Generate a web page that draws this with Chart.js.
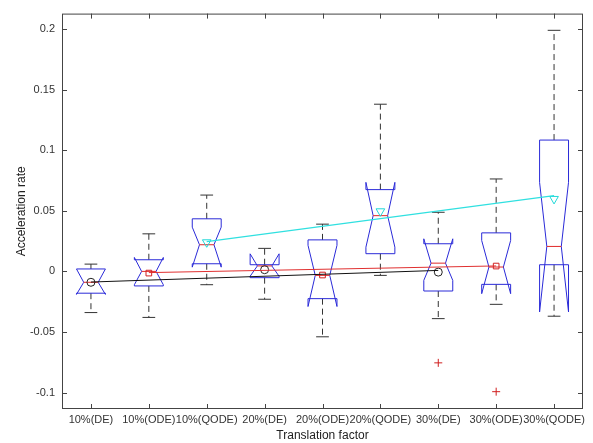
<!DOCTYPE html>
<html>
<head>
<meta charset="utf-8">
<script src="https://cdn.jsdelivr.net/npm/chart.js@4/dist/chart.umd.min.js"></script>
<style>
  html, body { margin: 0; padding: 0; background: #fff; }
  #wrap { width: 593px; height: 443px; }
</style>
</head>
<body>
<div id="wrap"><canvas id="chart"></canvas></div>
<script>
// categories along the x axis
const categories = ['10%(DE)', '10%(ODE)', '10%(QODE)', '20%(DE)', '20%(ODE)', '20%(QODE)', '30%(DE)', '30%(ODE)', '30%(QODE)'];

// box statistics
const whiskerHi = [0.006, 0.031, 0.063, 0.019, 0.039, 0.138, 0.0488, 0.0763, 0.199];
const q3 = [0.002, 0.0096, 0.0434, 0.0055, 0.026, 0.0675, 0.0228, 0.0318, 0.1084];
const notchHi = [0.002, 0.0115, 0.0365, 0.0145, 0.0215, 0.0735, 0.0269, 0.0255, 0.0735];
const medians = [-0.009, 0.0, 0.022, 0.0045, -0.0033, 0.046, 0.0068, 0.0036, 0.0206];
const notchLo = [-0.019, -0.011, 0.0035, -0.004, -0.029, 0.02, -0.0074, -0.0184, -0.0335];
const q1 = [-0.018, -0.012, 0.0063, -0.0052, -0.0225, 0.0146, -0.0162, -0.0107, 0.0055];
const whiskerLo = [-0.034, -0.038, -0.011, -0.023, -0.054, -0.0033, -0.039, -0.0272, -0.037];

// outliers (category index, value)
const outlierX = [7, 8];
const outlierY = [-0.0755, -0.0993];

// mean markers per method
const meanDE = [-0.009, 0.0014, -0.0006];
const meanODE = [-0.0014, -0.003, 0.0044];
const meanQODE = [0.024, 0.0496, 0.0598];
const posDE = [1, 4, 7];
const posODE = [2, 5, 8];
const posQODE = [3, 6, 9];

// fitted trend lines (start, end)
const trendDE = [-0.0088, 0.0008];
const trendODE = [-0.001, 0.0045];
const trendQODE = [0.0245, 0.0625];

const yTicks = [-0.1, -0.05, 0, 0.05, 0.1, 0.15, 0.2];

const boxWidth = 0.5;
const capWidth = 0.22;

const boxPlugin = {
  id: 'notchedBoxes',
  beforeDatasetsDraw(chart) {
    const { ctx, scales: { x, y } } = chart;
    ctx.save();
    ctx.lineWidth = 1;
    categories.forEach((c, i) => {
      const pos = i + 1;
      const l = x.getPixelForValue(pos - boxWidth / 2);
      const r = x.getPixelForValue(pos + boxWidth / 2);
      const nl = x.getPixelForValue(pos - boxWidth / 4);
      const nr = x.getPixelForValue(pos + boxWidth / 4);
      const cx = x.getPixelForValue(pos);
      const cl = x.getPixelForValue(pos - capWidth / 2);
      const cr = x.getPixelForValue(pos + capWidth / 2);

      // whiskers
      ctx.strokeStyle = '#333';
      ctx.setLineDash([6, 4]);
      ctx.beginPath();
      ctx.moveTo(cx, y.getPixelForValue(q3[i]));
      ctx.lineTo(cx, y.getPixelForValue(whiskerHi[i]));
      ctx.moveTo(cx, y.getPixelForValue(q1[i]));
      ctx.lineTo(cx, y.getPixelForValue(whiskerLo[i]));
      ctx.stroke();
      ctx.setLineDash([]);
      ctx.beginPath();
      ctx.moveTo(cl, y.getPixelForValue(whiskerHi[i]));
      ctx.lineTo(cr, y.getPixelForValue(whiskerHi[i]));
      ctx.moveTo(cl, y.getPixelForValue(whiskerLo[i]));
      ctx.lineTo(cr, y.getPixelForValue(whiskerLo[i]));
      ctx.stroke();

      // notched box
      ctx.strokeStyle = '#2a2ad8';
      ctx.beginPath();
      ctx.moveTo(l, y.getPixelForValue(q1[i]));
      ctx.lineTo(l, y.getPixelForValue(notchLo[i]));
      ctx.lineTo(nl, y.getPixelForValue(medians[i]));
      ctx.lineTo(l, y.getPixelForValue(notchHi[i]));
      ctx.lineTo(l, y.getPixelForValue(q3[i]));
      ctx.lineTo(r, y.getPixelForValue(q3[i]));
      ctx.lineTo(r, y.getPixelForValue(notchHi[i]));
      ctx.lineTo(nr, y.getPixelForValue(medians[i]));
      ctx.lineTo(r, y.getPixelForValue(notchLo[i]));
      ctx.lineTo(r, y.getPixelForValue(q1[i]));
      ctx.closePath();
      ctx.stroke();

      // median
      ctx.strokeStyle = '#e02828';
      ctx.beginPath();
      ctx.moveTo(nl, y.getPixelForValue(medians[i]));
      ctx.lineTo(nr, y.getPixelForValue(medians[i]));
      ctx.stroke();
    });
    ctx.restore();
  },
  afterDraw(chart) {
    // MATLAB-style frame with inward ticks
    const { ctx, chartArea: a, scales: { x, y } } = chart;
    ctx.save();
    ctx.strokeStyle = '#444';
    ctx.lineWidth = 1;
    ctx.strokeRect(a.left + 0.5, a.top + 0.5, a.right - a.left - 1, a.bottom - a.top - 1);
    ctx.beginPath();
    y.ticks.forEach(t => {
      const py = Math.round(y.getPixelForValue(t.value)) + 0.5;
      ctx.moveTo(a.left, py); ctx.lineTo(a.left + 5, py);
      ctx.moveTo(a.right, py); ctx.lineTo(a.right - 5, py);
    });
    x.ticks.forEach(t => {
      const px = Math.round(x.getPixelForValue(t.value)) + 0.5;
      ctx.moveTo(px, a.bottom); ctx.lineTo(px, a.bottom - 5);
      ctx.moveTo(px, a.top); ctx.lineTo(px, a.top + 5);
    });
    ctx.stroke();
    ctx.restore();
  }
};

const pts = (xs, ys) => xs.map((v, i) => ({ x: v, y: ys[i] }));
const line = (xs, ys) => [{ x: xs[0], y: ys[0] }, { x: xs[xs.length - 1], y: ys[1] }];

new Chart(document.getElementById('chart').getContext('2d'), {
  type: 'scatter',
  data: {
    datasets: [
      { type: 'line', data: line(posDE, trendDE), borderColor: '#111', borderWidth: 1, pointRadius: 0 },
      { type: 'line', data: line(posODE, trendODE), borderColor: '#e03030', borderWidth: 1, pointRadius: 0 },
      { type: 'line', data: line(posQODE, trendQODE), borderColor: '#30e0e0', borderWidth: 1.2, pointRadius: 0 },
      { data: pts(posDE, meanDE), pointStyle: 'circle', radius: 4, borderColor: '#222', borderWidth: 1, backgroundColor: 'transparent' },
      { data: pts(posODE, meanODE), pointStyle: 'rect', radius: 4, borderColor: '#d02020', borderWidth: 1, backgroundColor: 'transparent' },
      { data: pts(posQODE, meanQODE), pointStyle: 'triangle', rotation: 180, radius: 5, borderColor: '#20d8d8', borderWidth: 1, backgroundColor: 'transparent' },
      { data: pts(outlierX, outlierY), pointStyle: 'cross', radius: 4, borderColor: '#d02020', borderWidth: 1 }
    ]
  },
  options: {
    responsive: true,
    maintainAspectRatio: false,
    animation: false,
    layout: { padding: { left: 0, right: 10, top: 12, bottom: 0 } },
    plugins: { legend: { display: false }, tooltip: { enabled: false } },
    scales: {
      x: {
        type: 'linear',
        min: 0.5,
        max: 9.5,
        grid: { display: false, drawTicks: false },
        border: { display: false },
        afterFit: s => { s.height = 34; },
        afterBuildTicks: s => { s.ticks = categories.map((c, i) => ({ value: i + 1 })); },
        ticks: {
          autoSkip: false,
          maxRotation: 0,
          padding: 4,
          color: '#333',
          font: { family: 'Liberation Sans', size: 11 },
          callback: v => categories[v - 1]
        },
        title: {
          display: true,
          text: 'Translation factor',
          color: '#222',
          padding: { top: 0, bottom: 0 },
          font: { family: 'Liberation Sans', size: 12 }
        }
      },
      y: {
        min: -0.1136,
        max: 0.2128,
        grid: { display: false, drawTicks: false },
        border: { display: false },
        afterFit: s => { s.width = 62; },
        afterBuildTicks: s => { s.ticks = yTicks.map(v => ({ value: v })); },
        ticks: {
          padding: 7,
          color: '#333',
          font: { family: 'Liberation Sans', size: 11 },
          callback: v => String(+v.toFixed(2))
        },
        title: {
          display: true,
          text: 'Acceleration rate',
          color: '#222',
          padding: { top: 14, bottom: 0 },
          font: { family: 'Liberation Sans', size: 12 }
        }
      }
    }
  },
  plugins: [boxPlugin]
});
</script>
</body>
</html>
